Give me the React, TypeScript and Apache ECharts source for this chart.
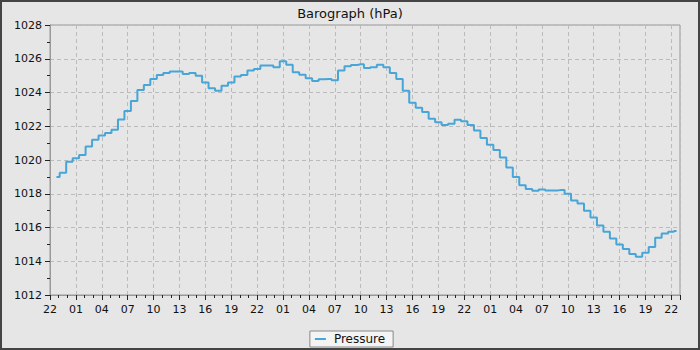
import React, { useEffect, useRef } from "react";
import * as echarts from "echarts";

const startHour = 22;
const hours = [
  0.75, 1.5, 2.25, 3, 3.75, 4.5, 5.25, 6, 6.75, 7.5, 8.25, 9, 9.75, 10.5, 11.25, 12,
  12.75, 13.5, 14.25, 15, 15.75, 16.5, 17.25, 18, 18.75, 19.5, 20.25, 21, 21.75, 22.5, 23.25, 24,
  24.75, 25.5, 26.25, 27, 27.75, 28.5, 29.25, 30, 30.75, 31.5, 32.25, 33, 33.75, 34.5, 35.25, 36,
  36.75, 37.5, 38.25, 39, 39.75, 40.5, 41.25, 42, 42.75, 43.5, 44.25, 45, 45.75, 46.5, 47.25, 48,
  48.75, 49.5, 50.25, 51, 51.75, 52.5, 53.25, 54, 54.75, 55.5, 56.25, 57, 57.75, 58.5, 59.25, 60,
  60.75, 61.5, 62.25, 63, 63.75, 64.5, 65.25, 66, 66.75, 67.5, 68.25, 69, 69.75, 70.5, 71.25, 72,
  72.6,
];
const pressure = [
  1019.0, 1019.25, 1019.9, 1020.1, 1020.3, 1020.8, 1021.2, 1021.45, 1021.6, 1021.8, 1022.4, 1022.9, 1023.5, 1024.15, 1024.45, 1024.8,
  1025.04, 1025.15, 1025.25, 1025.25, 1025.1, 1025.15, 1025.0, 1024.6, 1024.25, 1024.1, 1024.4, 1024.6, 1024.95, 1025.04, 1025.3, 1025.4,
  1025.6, 1025.6, 1025.5, 1025.85, 1025.65, 1025.2, 1025.05, 1024.85, 1024.68, 1024.78, 1024.8, 1024.72, 1025.3, 1025.55, 1025.63, 1025.67,
  1025.45, 1025.5, 1025.65, 1025.5, 1025.15, 1024.8, 1024.1, 1023.4, 1023.1, 1022.85, 1022.45, 1022.23, 1022.07, 1022.15, 1022.38, 1022.3,
  1022.07, 1021.75, 1021.3, 1020.9, 1020.6, 1020.15, 1019.55, 1019.0, 1018.5, 1018.28, 1018.18, 1018.25, 1018.2, 1018.2, 1018.22, 1018.0,
  1017.6, 1017.42, 1017.0, 1016.6, 1016.12, 1015.75, 1015.35, 1015.0, 1014.72, 1014.43, 1014.27, 1014.5, 1014.85, 1015.4, 1015.65, 1015.75,
  1015.8,
];

const FONT = "DejaVu Sans";

export default function App() {
  const ref = useRef<HTMLDivElement>(null);
  useEffect(() => {
    document.body.style.margin = "0";
    if (!ref.current) return;
    const chart = echarts.init(ref.current, null, { renderer: "svg" });
    const data = hours.map((h, i) => [h, pressure[i]]);
    chart.setOption({
      animation: false,
      backgroundColor: "#e6e6e6",
      textStyle: { fontFamily: FONT },
      title: {
        text: "Barograph (hPa)",
        left: "center",
        top: 0,
        textStyle: { fontFamily: FONT, fontSize: 13, fontWeight: "normal", color: "#111" },
      },
      legend: {
        bottom: 1,
        left: "center",
        data: [{ name: "Pressure", icon: "rect" }],
        itemWidth: 11,
        itemHeight: 2,
        itemGap: 8,
        backgroundColor: "#f4f4f4",
        borderColor: "#888",
        borderWidth: 1,
        borderRadius: 0,
        padding: [2, 8, 2, 5],
        textStyle: { fontFamily: FONT, fontSize: 12, color: "#111", padding: [0, 0, 0, 3] },
      },
      grid: {
        left: 48,
        right: 18,
        top: 23,
        bottom: 53,
        show: true,
        backgroundColor: "#e6e6e6",
        borderColor: "#999",
        borderWidth: 1,
      },
      xAxis: {
        type: "value",
        min: 0,
        max: 73,
        interval: 3,
        axisLine: { show: true, lineStyle: { color: "#999" } },
        axisTick: { show: true, length: 5, lineStyle: { color: "#222" } },
        minorTick: { show: true, splitNumber: 3, length: 3, lineStyle: { color: "#222" } },
        splitLine: { show: true, lineStyle: { color: "#bbb", type: [4, 3], width: 1 } },
        axisLabel: {
          fontFamily: FONT,
          fontSize: 11,
          color: "#111",
          margin: 9,
          showMaxLabel: false,
          formatter: (v: number) => {
            const r = Math.round(v);
            if (Math.abs(v - r) > 1e-6 || r % 3 !== 0) return "";
            return String((startHour + r) % 24).padStart(2, "0");
          },
        },
      },
      yAxis: {
        type: "value",
        min: 1012,
        max: 1028,
        interval: 2,
        axisLine: { show: true, lineStyle: { color: "#999" } },
        axisTick: { show: true, length: 5, lineStyle: { color: "#222" } },
        minorTick: { show: true, splitNumber: 2, length: 3, lineStyle: { color: "#222" } },
        splitLine: { show: true, lineStyle: { color: "#bbb", type: [4, 3], width: 1 } },
        axisLabel: {
          fontFamily: FONT,
          fontSize: 11,
          color: "#111",
          margin: 8,
          formatter: (v: number) => String(v),
        },
      },
      series: [
        {
          name: "Pressure",
          type: "line",
          step: "middle",
          data,
          showSymbol: false,
          symbol: "none",
          color: "#47a5d8",
          lineStyle: { color: "#47a5d8", width: 2 },
        },
      ],
    });
    return () => chart.dispose();
  }, []);
  return (
    <div
      style={{
        width: 700,
        height: 350,
        border: "2px solid #444",
        boxSizing: "border-box",
        background: "#e6e6e6",
      }}
    >
      <div ref={ref} style={{ width: 696, height: 346 }} />
    </div>
  );
}
